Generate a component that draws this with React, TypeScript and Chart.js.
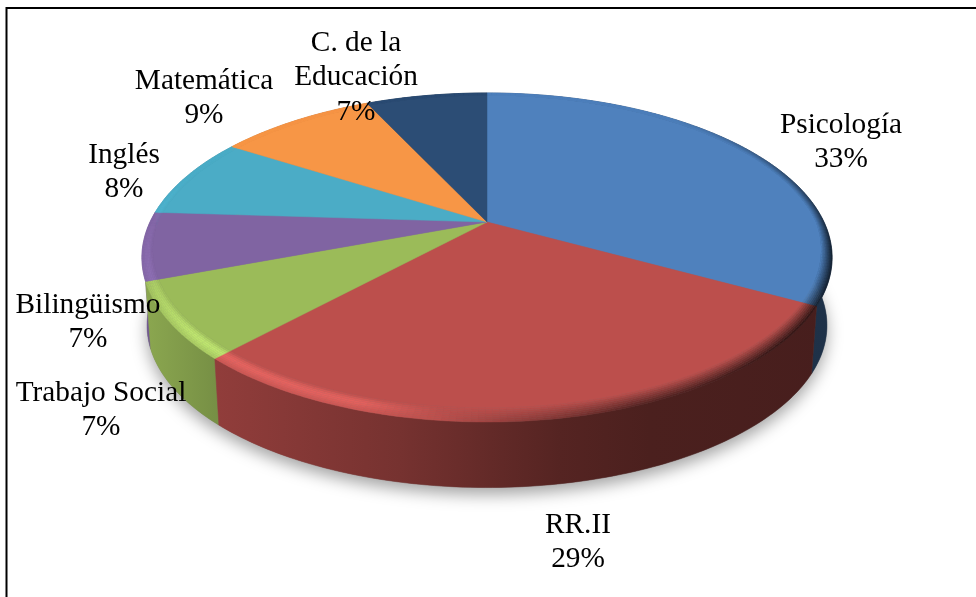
import React, { useEffect, useRef } from "react";
import { Chart, registerables } from "chart.js";

Chart.register(...registerables);

const categories = ["Psicología", "RR.II", "Trabajo Social", "Bilingüismo", "Inglés", "Matemática", "C. de la Educación"];
const shares = [33, 28.9, 7.4, 6.7, 8, 9, 7];
const sliceColors = ["#4f81bd", "#bc4f4c", "#9bbb59", "#8064a2", "#4bacc6", "#f79646", "#2c4d75"];
const labelLines = [["Psicología"], ["RR.II"], ["Trabajo Social"], ["Bilingüismo"], ["Inglés"], ["Matemática"], ["C. de la", "Educación"]];
const labelAnchors = [
  [841, 125], [578, 525], [101, 393], [88, 305], [124, 155], [204, 81], [356, 43],
];

const APEX_X = 487, APEX_Y = 222, RX = 337, RY = 156.9, PERSP = 0.2157;
const LOWER_SCALE = 0.985, LOWER_DY = 68.5;
const FONT = '29.3px "Liberation Serif"';
const LINE_GAP = 34.5;

function project(a: number, r: number, scale = 1, dy = 0): [number, number] {
  const X = r * Math.cos(a), Y = r * Math.sin(a);
  const w = 1 - PERSP * Y;
  return [APEX_X + (RX * scale * X) / w, APEX_Y + dy + (RY * scale * Y) / w];
}

function rgb(hex: string): number[] {
  return [1, 3, 5].map((i) => parseInt(hex.slice(i, i + 2), 16));
}

function interp(table: number[][], v: number): number {
  for (let i = 1; i < table.length; i++) {
    if (v <= table[i][0]) {
      const [x0, y0] = table[i - 1], [x1, y1] = table[i];
      return y0 + ((y1 - y0) * (v - x0)) / (x1 - x0);
    }
  }
  return table[table.length - 1][1];
}

// bevel light (+) / dark (-) amount by clockwise degrees from the top
const bevelShade = [
  [0, 0], [40, 0], [70, -0.3], [100, -0.6], [130, -0.58], [160, -0.42], [180, -0.12],
  [198, 0.2], [230, 0.22], [250, 0.1], [270, 0.05], [290, 0.02], [320, 0], [360, 0],
];
// brightness of the wall by canvas x
const wallShade = [[142, 0.9], [215, 0.77], [400, 0.63], [560, 0.45], [650, 0.4], [832, 0.38]];

function mixColor(base: number[], amount: number): string {
  const c = base.map((v) => {
    const out = amount > 0 ? v * (1 + amount) + 12 * amount : v * (1 + amount);
    return Math.min(255, Math.round(out));
  });
  return `rgb(${c[0]},${c[1]},${c[2]})`;
}

const piePlugin = {
  id: "perspectivePie",
  beforeDatasetsDraw(chart: any) {
    const ctx: CanvasRenderingContext2D = chart.ctx;
    const arcs = chart.getDatasetMeta(0).data;
    const STEP = Math.PI / 180;

    const lowerOutline = () => {
      ctx.beginPath();
      for (let i = 0; i <= 360; i++) {
        const [x, y] = project(i * STEP, 1, LOWER_SCALE, LOWER_DY);
        if (i === 0) ctx.moveTo(x, y);
        else ctx.lineTo(x, y);
      }
      ctx.closePath();
    };

    // cast shadow
    ctx.save();
    ctx.shadowColor = "rgba(0,0,0,0.36)";
    ctx.shadowBlur = 16;
    ctx.shadowOffsetY = 7;
    ctx.fillStyle = "#777";
    lowerOutline();
    ctx.fill();
    ctx.restore();

    // walls, painted back to front
    const backToFront = arcs
      .map((arc: any, idx: number) => ({ arc, idx, depth: Math.sin((arc.startAngle + arc.endAngle) / 2) }))
      .sort((p: any, q: any) => p.depth - q.depth);
    backToFront.forEach(({ arc, idx }: any) => {
      const base = rgb(sliceColors[idx]);
      const g = ctx.createLinearGradient(142, 0, 832, 0);
      wallShade.forEach(([x, m]) => {
        const c = base.map((v) => Math.round(v * m));
        g.addColorStop((x - 142) / 690, `rgb(${c[0]},${c[1]},${c[2]})`);
      });
      const s = arc.startAngle, e = arc.endAngle;
      const n = Math.max(2, Math.ceil((e - s) / STEP));
      ctx.beginPath();
      for (let i = 0; i <= n; i++) {
        const [x, y] = project(s + ((e - s) * i) / n, 1);
        if (i === 0) ctx.moveTo(x, y);
        else ctx.lineTo(x, y);
      }
      for (let i = n; i >= 0; i--) {
        const [x, y] = project(s + ((e - s) * i) / n, 1, LOWER_SCALE, LOWER_DY);
        ctx.lineTo(x, y);
      }
      ctx.closePath();
      ctx.fillStyle = g;
      ctx.fill();
      ctx.strokeStyle = g;
      ctx.lineWidth = 0.5;
      ctx.stroke();
    });

    // top faces with bevelled rim
    const RINGS = 8;
    const inset = (a: number) => 0.024 + 0.034 * Math.max(0, Math.sin(a));
    const ringR = (a: number, i: number) => 1 - (inset(a) * i) / RINGS;
    const profile = (t: number) => (t < 0.5 ? 0.35 + 1.3 * t : 1 - Math.pow((t - 0.5) * 2, 2));

    arcs.forEach((arc: any, idx: number) => {
      const base = rgb(sliceColors[idx]);
      const s = arc.startAngle, e = arc.endAngle;
      const n = Math.max(2, Math.ceil((e - s) / STEP));
      for (let j = 0; j < n; j++) {
        const a0 = s + ((e - s) * j) / n, a1 = s + ((e - s) * (j + 1)) / n;
        const deg = ((((a0 + a1) / 2 + Math.PI / 2) * 180) / Math.PI + 360) % 360;
        const amount = interp(bevelShade, deg);
        for (let i = 0; i < RINGS; i++) {
          const t = (i + 0.5) / RINGS;
          const col = mixColor(base, amount < 0 ? amount * (1 - t) * 1.3 : amount * profile(t));
          const p = [project(a0, ringR(a0, i)), project(a1, ringR(a1, i)), project(a1, ringR(a1, i + 1)), project(a0, ringR(a0, i + 1))];
          ctx.beginPath();
          ctx.moveTo(p[0][0], p[0][1]);
          p.slice(1).forEach((q) => ctx.lineTo(q[0], q[1]));
          ctx.closePath();
          ctx.fillStyle = col;
          ctx.fill();
          ctx.strokeStyle = col;
          ctx.lineWidth = 0.4;
          ctx.stroke();
        }
      }
      ctx.beginPath();
      ctx.moveTo(APEX_X, APEX_Y);
      for (let j = 0; j <= n; j++) {
        const a = s + ((e - s) * j) / n;
        const [x, y] = project(a, ringR(a, RINGS));
        ctx.lineTo(x, y);
      }
      ctx.closePath();
      ctx.fillStyle = sliceColors[idx];
      ctx.fill();
      ctx.strokeStyle = sliceColors[idx];
      ctx.lineWidth = 0.5;
      ctx.stroke();
    });
    return false;
  },
  afterDraw(chart: any) {
    const ctx: CanvasRenderingContext2D = chart.ctx;
    const values: number[] = chart.data.datasets[0].data;
    const total = values.reduce((p, v) => p + v, 0);
    ctx.save();
    // frame
    ctx.strokeStyle = "#000";
    ctx.lineWidth = 2;
    ctx.beginPath();
    ctx.moveTo(6.5, 597);
    ctx.lineTo(6.5, 8);
    ctx.lineTo(976, 8);
    ctx.stroke();
    // labels
    ctx.font = FONT;
    ctx.fillStyle = "#000";
    ctx.textAlign = "center";
    ctx.textBaseline = "middle";
    values.forEach((v, i) => {
      const [x, y] = labelAnchors[i];
      const lines = [...labelLines[i], `${Math.round((v / total) * 100)}%`];
      lines.forEach((line, k) => ctx.fillText(line, x, y + k * LINE_GAP));
    });
    ctx.restore();
  },
};

export default function App() {
  const ref = useRef<HTMLCanvasElement>(null);
  useEffect(() => {
    document.body.style.margin = "0";
    const chart = new Chart(ref.current as HTMLCanvasElement, {
      type: "pie",
      data: {
        labels: categories,
        datasets: [{ data: shares, backgroundColor: sliceColors, borderWidth: 0 }],
      },
      options: {
        responsive: false,
        animation: false,
        plugins: { legend: { display: false }, tooltip: { enabled: false } },
      },
      plugins: [piePlugin],
    } as any);
    return () => chart.destroy();
  }, []);
  return <canvas ref={ref} width={976} height={597} style={{ display: "block" }} />;
}
